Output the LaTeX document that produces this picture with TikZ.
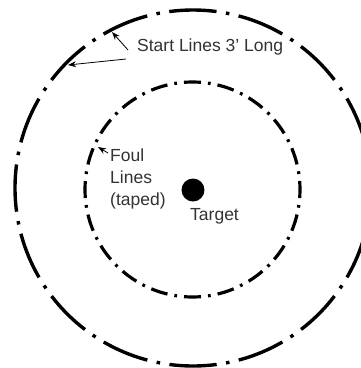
\documentclass[tikz,border=0pt]{standalone}
\usepackage{fontspec}
\setmainfont{Liberation Sans}
\usetikzlibrary{arrows.meta}
\begin{document}
\begin{tikzpicture}[x=1pt,y=-1pt,
  outerring/.style={line width=3.4pt, dash pattern=on 47.4pt off 9.5pt on 3.5pt off 9.5pt, dash phase=23.7pt},
  innerring/.style={line width=3.2pt, dash pattern=on 17pt off 7pt on 2.77pt off 7pt, dash phase=8.5pt},
  lbl/.style={inner sep=0pt, text=black!80, font=\fontsize{17.5}{22}\selectfont},
  pointer/.style={-{Stealth[length=8pt,width=6pt]}, line width=0.8pt},
  dot/.style={circle, fill=black, minimum size=23pt, inner sep=0pt}]
\useasboundingbox (0,0) rectangle (361,368);
\fill[white] (0,0) rectangle (361,368);
% rings
\draw[outerring] (193,188) circle[radius=178];
\draw[innerring] (192.5,189.5) circle[radius=107.5];
% target
\node[dot] (target) at (193,190) {};
\node[lbl, anchor=base west] (targetlbl) at (190,220) {Target};
% labels
\node[lbl, anchor=base west] (start) at (137,51) {Start Lines 3’ Long};
\node[lbl, anchor=north west, align=left] (foul) at (110,149) {Foul\\Lines\\(taped)};
% arrow ends
\coordinate (s1tail) at (128,50);
\coordinate (s1head) at (112,32);
\coordinate (s2tail) at (126,59);
\coordinate (s2head) at (68,65);
\coordinate (ftail) at (108,153);
\coordinate (fhead) at (98,147);
\draw[pointer] (s1tail) -- (s1head);
\draw[pointer] (s2tail) -- (s2head);
\draw[pointer] (ftail) -- (fhead);
\end{tikzpicture}
\end{document}
